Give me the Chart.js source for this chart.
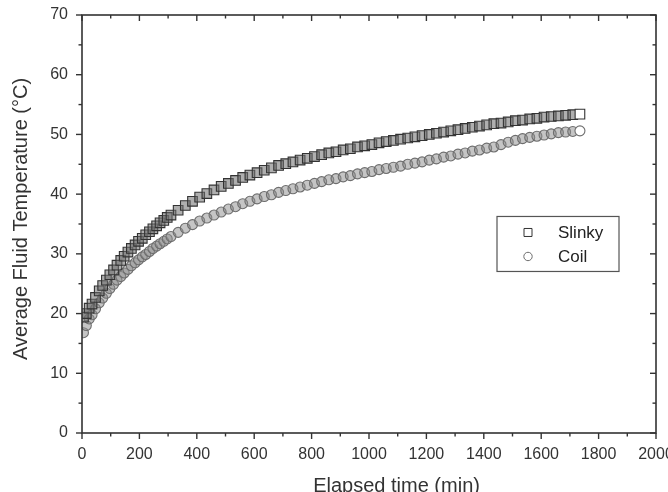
<!DOCTYPE html>
<html>
<head>
<meta charset="utf-8">
<script src="https://cdn.jsdelivr.net/npm/chart.js@4/dist/chart.umd.min.js"></script>
<style>
  html, body { margin: 0; padding: 0; background: #fff; overflow: hidden; }
  #wrap { width: 668px; height: 492px; }
</style>
</head>
<body>
<div id="wrap"><canvas id="chart" width="668" height="492"></canvas></div>
<script>
// elapsed time (min) of each logged sample (denser at the start)
const times = [
  5, 15, 25, 35, 47, 60, 72, 85, 97, 110, 122, 135, 147, 160, 172, 185, 197,
  210, 222, 235, 247, 260, 272, 285, 297, 310, 335, 360, 385, 410, 435, 460, 485,
  510, 535, 560, 585, 610, 635, 660, 685, 710, 735,
  760, 785, 810, 835, 860, 885, 910, 935, 960, 985,
  1010, 1035, 1060, 1085, 1110, 1135, 1160, 1185, 1210, 1235,
  1260, 1285, 1310, 1335, 1360, 1385, 1410, 1435, 1460, 1485,
  1510, 1535, 1560, 1585, 1610, 1635, 1660, 1685, 1710, 1735
]

const slinkyTemps = [
  19.4, 20.0, 20.9, 21.6, 22.7, 23.8, 24.7, 25.6, 26.5, 27.3, 28.1, 28.9, 29.6, 30.3, 30.9, 31.5, 32.1,
  32.6, 33.2, 33.7, 34.2, 34.7, 35.2, 35.6, 36.1, 36.5, 37.3, 38.1, 38.8, 39.5, 40.1, 40.7, 41.3,
  41.8, 42.3, 42.8, 43.2, 43.6, 44.0, 44.4, 44.8, 45.1, 45.4,
  45.7, 46.0, 46.3, 46.6, 46.9, 47.1, 47.4, 47.6, 47.9, 48.1,
  48.3, 48.6, 48.8, 49.0, 49.2, 49.4, 49.6, 49.8, 50.0, 50.2,
  50.4, 50.6, 50.8, 51.0, 51.2, 51.4, 51.6, 51.8, 51.9, 52.1,
  52.3, 52.4, 52.6, 52.7, 52.9, 53.0, 53.1, 53.2, 53.3, 53.4
]

const coilTemps = [
  16.8, 18.0, 19.1, 19.8, 20.8, 21.8, 22.6, 23.4, 24.2, 24.9, 25.6, 26.2, 26.8, 27.4, 28.0, 28.5, 29.0,
  29.5, 29.9, 30.4, 30.9, 31.3, 31.7, 32.1, 32.5, 32.9, 33.6, 34.3, 34.9, 35.5, 36.0, 36.5, 37.0,
  37.5, 37.9, 38.4, 38.8, 39.2, 39.6, 39.9, 40.3, 40.6, 40.9,
  41.2, 41.5, 41.8, 42.1, 42.4, 42.6, 42.9, 43.1, 43.4, 43.6,
  43.8, 44.1, 44.3, 44.5, 44.7, 45.0, 45.2, 45.4, 45.7, 45.9,
  46.2, 46.4, 46.7, 46.9, 47.2, 47.4, 47.7, 47.9, 48.3, 48.7,
  49.0, 49.3, 49.5, 49.7, 49.9, 50.1, 50.3, 50.4, 50.5, 50.6
]

const xTicks = [0, 200, 400, 600, 800, 1000, 1200, 1400, 1600, 1800, 2000]
const yTicks = [0, 10, 20, 30, 40, 50, 60, 70]
const seriesNames = ["Slinky", "Coil"]
const xTitle = "Elapsed time (min)"
const yTitle = "Average Fluid Temperature (\u00B0C)"

const FONT = "'Liberation Sans', Arial, sans-serif"
const AXIS = "#333"

const toPoints = vals => vals.map((v, i) => ({ x: times[i], y: v }))

// last marker of each run is left open (white), the rest are shaded
const fills = (shade, n) => times.map((t, i) => (i === n - 1 ? "#fff" : shade))

// box frame, mirrored ticks, axis titles and the boxed legend
const framePlugin = {
  id: "frame",
  afterDraw(chart) {
    const { ctx, chartArea: a, scales: { x, y } } = chart
    ctx.save()
    ctx.strokeStyle = AXIS
    ctx.lineWidth = 1.6
    ctx.strokeRect(a.left, a.top, a.right - a.left, a.bottom - a.top)

    const seg = (x1, y1, x2, y2) => {
      ctx.beginPath(); ctx.moveTo(x1, y1); ctx.lineTo(x2, y2); ctx.stroke()
    }
    ctx.lineWidth = 1.4
    for (let v = 0; v <= 2000; v += 100) {
      const px = x.getPixelForValue(v)
      const len = v % 200 === 0 ? 6 : 3.5
      seg(px, a.bottom, px, a.bottom + len)
      seg(px, a.top, px, a.top + len)
    }
    for (let v = 0; v <= 70; v += 5) {
      const py = y.getPixelForValue(v)
      const len = v % 10 === 0 ? 6 : 3.5
      seg(a.left, py, a.left - len, py)
      seg(a.right, py, a.right - len, py)
    }

    // axis titles
    ctx.fillStyle = AXIS
    ctx.font = "20px " + FONT
    ctx.textAlign = "center"
    ctx.textBaseline = "alphabetic"
    ctx.fillText(xTitle, a.left + (a.right - a.left) * 0.548, a.bottom + 59)
    ctx.save()
    ctx.translate(27, (a.top + a.bottom) / 2 - 5)
    ctx.rotate(-Math.PI / 2)
    ctx.fillText(yTitle, 0, 0)
    ctx.restore()

    // legend box
    const lx = a.left + (a.right - a.left) * 0.723
    const ly = a.top + (a.bottom - a.top) * 0.482
    const lw = 122, lh = 55
    ctx.fillStyle = "#fff"
    ctx.fillRect(lx, ly, lw, lh)
    ctx.strokeStyle = "#555"
    ctx.lineWidth = 1.2
    ctx.strokeRect(lx, ly, lw, lh)
    ctx.font = "17px " + FONT
    ctx.textAlign = "left"
    ctx.textBaseline = "middle"
    chart.data.datasets.forEach((ds, i) => {
      const cy = ly + 16 + i * 24
      const cx = lx + 31
      ctx.strokeStyle = ds.borderColor
      ctx.lineWidth = 1
      ctx.beginPath()
      if (ds.pointStyle === "rect") ctx.rect(cx - 4, cy - 4, 8, 8)
      else ctx.arc(cx, cy, 4.2, 0, Math.PI * 2)
      ctx.stroke()
      ctx.fillStyle = "#222"
      ctx.fillText(ds.label, lx + 61, cy + 1)
    })
    ctx.restore()
  }
}

new Chart(document.getElementById("chart"), {
  type: "scatter",
  data: {
    datasets: [
      {
        label: seriesNames[0],
        data: toPoints(slinkyTemps),
        pointStyle: "rect",
        pointRadius: 6.8,
        borderColor: "#333",
        pointBackgroundColor: fills("rgba(110,110,110,0.55)", slinkyTemps.length),
        backgroundColor: "rgba(110,110,110,0.55)",
        borderWidth: 1.1,
        showLine: false
      },
      {
        label: seriesNames[1],
        data: toPoints(coilTemps),
        pointStyle: "circle",
        pointRadius: 5,
        borderColor: "#6e6e6e",
        pointBackgroundColor: fills("rgba(140,140,140,0.5)", coilTemps.length),
        backgroundColor: "rgba(140,140,140,0.5)",
        borderWidth: 1.1,
        showLine: false
      }
    ]
  },
  options: {
    responsive: false,
    animation: false,
    layout: { padding: { top: 15, right: 12, left: 0, bottom: 0 } },
    plugins: {
      legend: { display: false },
      tooltip: { enabled: false }
    },
    scales: {
      x: {
        type: "linear",
        min: 0,
        max: 2000,
        afterFit: s => { s.height = 59; s.paddingLeft = 0; s.paddingRight = 0 },
        afterBuildTicks: s => { s.ticks = xTicks.map(v => ({ value: v })) },
        grid: { display: false, drawTicks: false },
        border: { display: false },
        ticks: { color: AXIS, padding: 12, font: { family: FONT, size: 16 }, callback: v => String(v) }
      },
      y: {
        min: 0,
        max: 70,
        afterFit: s => { s.width = 82; s.paddingTop = 0; s.paddingBottom = 0 },
        afterBuildTicks: s => { s.ticks = yTicks.map(v => ({ value: v })) },
        grid: { display: false, drawTicks: false },
        border: { display: false },
        ticks: { color: AXIS, padding: 14, font: { family: FONT, size: 16 }, callback: v => String(v) }
      }
    }
  },
  plugins: [framePlugin]
})
</script>
</body>
</html>
